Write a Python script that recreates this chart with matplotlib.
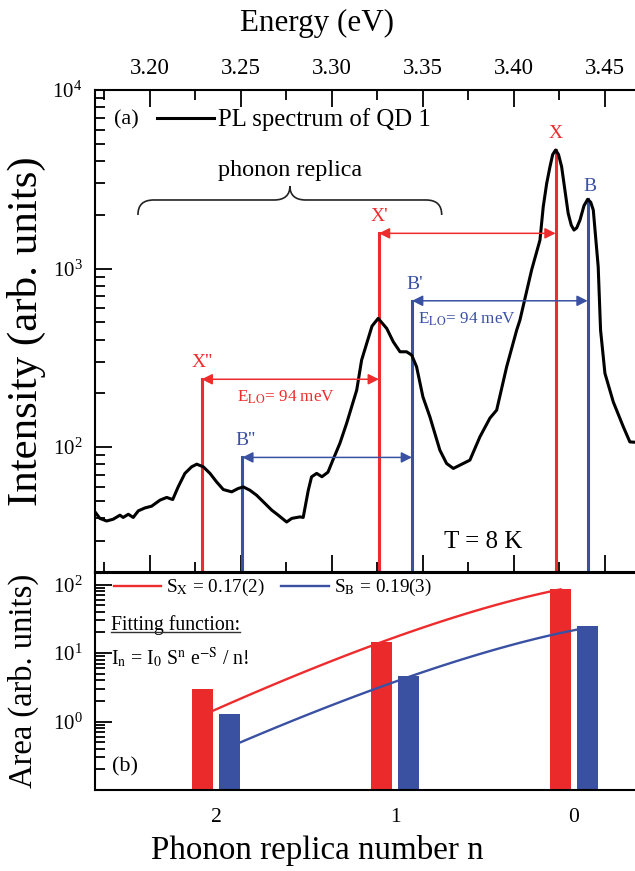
import math

import matplotlib.pyplot as plt
import numpy as np
from matplotlib.lines import Line2D
from matplotlib.patches import PathPatch
from matplotlib.path import Path
from matplotlib.ticker import FixedLocator, MultipleLocator, NullFormatter, LogLocator
from matplotlib.transforms import IdentityTransform

plt.rcParams["font.family"] = ["Liberation Serif", "DejaVu Serif"]
plt.rcParams["mathtext.fontset"] = "stix"

RED = "#ee2b2d"
BLUE = "#3a51a3"

# PL spectrum of QD 1
energy = [3.1698, 3.1725, 3.1762, 3.1798, 3.1835, 3.1853, 3.1881, 3.1908, 3.1936,
          3.1973, 3.2009, 3.2055, 3.2092, 3.2125, 3.2155, 3.2192, 3.2229, 3.2257,
          3.2293, 3.2330, 3.2366, 3.2403, 3.2449, 3.2485, 3.2513, 3.2549, 3.2586,
          3.2623, 3.2669, 3.2705, 3.2751, 3.2779, 3.2824, 3.2842, 3.2870, 3.2888,
          3.2916, 3.2945, 3.2978, 3.3005, 3.3044, 3.3081, 3.3136, 3.3163, 3.3191,
          3.3220, 3.3254, 3.3301, 3.3337, 3.3374, 3.3410, 3.3438, 3.3465, 3.3500,
          3.3538, 3.3593, 3.3630, 3.3667, 3.3703, 3.3758, 3.3813, 3.3868, 3.3905,
          3.3960, 3.4015, 3.4033, 3.4097, 3.4143, 3.4161, 3.4180, 3.4198, 3.4213,
          3.4229, 3.4245, 3.4262, 3.4298, 3.4315, 3.4330, 3.4345, 3.4363, 3.4385,
          3.4405, 3.4422, 3.4436, 3.4463, 3.4476, 3.4500, 3.4546, 3.4601, 3.4637,
          3.4700]
intensity = [43.4, 39.9, 38.6, 39.5, 41.6, 40.4, 42.1, 40.4, 44.0,
             45.7, 46.7, 50.5, 52.3, 50.9, 59.9, 71.3, 77.6, 80.3,
             77.6, 71.3, 63.9, 57.9, 56.2, 58.7, 59.9, 57.4, 53.8,
             49.4, 44.4, 41.6, 38.1, 39.9, 40.7, 40.4, 57.4, 68.2,
             71.3, 68.3, 72.4, 84.6, 105.3, 136.3, 208.6, 307.2, 381,
             476, 526, 462, 389, 342, 342, 328, 282, 191,
             148, 96.2, 81.0, 76.0, 79.3, 84.6, 114.2, 145.4, 161.2,
             282, 452, 515, 981, 1444, 2219, 3000, 3718, 4350,
             4612, 4350, 3718, 2038, 1750, 1643, 1690, 1870, 2250,
             2442, 2350, 2127, 1023, 452, 259, 179, 130, 107,
             106]

# exciton (X) and biexciton (B) lines with their LO-phonon replicas
x_names = ["X", "X'", "X''"]
x_energy = [3.4229, 3.3258, 3.2284]
x_top = [4612, 1575, 240]
b_names = ["B", "B'", "B''"]
b_energy = [3.4405, 3.3440, 3.2507]
b_top = [2442, 660, 87.6]

# integrated areas of the replicas
replica_n = [2, 1, 0]
area_x = [2.95, 14.7, 86.5]
area_b = [1.27, 4.6, 25.0]
S_x, I0_x = 0.17, 100.8
S_b, I0_b = 0.19, 28.4


def poisson(n, S, I0):
    """Fitting function I_n = I0 S^n exp(-S) / n!"""
    return np.array([I0 * S ** k * math.exp(-S) / math.gamma(k + 1) for k in n])


fig = plt.figure(figsize=(6.35, 8.71), dpi=100)
ax = fig.add_axes([0.1496, 0.3433, 0.8598, 0.5534])
ax2 = fig.add_axes([0.1496, 0.0930, 0.8598, 0.2497])

# ---- panel (a)
ax.set_yscale("log")
ax.set_xlim(3.1698, 3.4698)
ax.set_ylim(20, 1e4)

for e, top in zip(x_energy, x_top):
    ax.plot([e, e], [20, top], color=RED, lw=2.2, zorder=2)
for e, top in zip(b_energy, b_top):
    ax.plot([e, e], [20, top], color=BLUE, lw=2.2, zorder=2)
ax.plot(energy, intensity, color="black", lw=2.2, zorder=3, label="PL spectrum of QD 1")

# E_LO arrows between neighbouring replicas
arrow_kw = dict(arrowstyle="<|-|>", mutation_scale=16, shrinkA=0, shrinkB=0, lw=1.1)
for i in range(2):
    ax.annotate("", xy=(x_energy[i], x_top[i + 1]), xytext=(x_energy[i + 1], x_top[i + 1]),
                arrowprops=dict(color=RED, **arrow_kw), zorder=4)
    ax.annotate("", xy=(b_energy[i], b_top[i + 1]), xytext=(b_energy[i + 1], b_top[i + 1]),
                arrowprops=dict(color=BLUE, **arrow_kw), zorder=4)

for name, e, y in zip(x_names, x_energy, [5741, 1950, 296]):
    ax.text(e, y, name, color=RED, fontsize=14, ha="center", va="center")
for name, e, y in zip(b_names, b_energy, [2897, 818, 109]):
    ax.text(e + 0.0015, y, name, color=BLUE, fontsize=14, ha="center", va="center")

ax.text(3.2476, 191, r"E$_\mathrm{LO}$= 94 meV", color=RED, fontsize=12.3, va="center")
ax.text(3.3473, 521, r"E$_\mathrm{LO}$= 94 meV", color=BLUE, fontsize=12.3, va="center")
ax.text(3.383, 29.5, "T = 8 K", fontsize=18, ha="center", va="center")
ax.text(3.2769, 3563, "phonon replica", fontsize=17.4, ha="center", va="center")
ax.text(0.058, 0.938, "(a)", transform=ax.transAxes, fontsize=16, ha="center", va="center")

ax.legend(loc="center left", bbox_to_anchor=(0.113, 0.938), frameon=False,
          fontsize=17.8, handlelength=2.3, handletextpad=0.2, borderpad=0,
          borderaxespad=0)

ax.xaxis.set_major_locator(MultipleLocator(0.05))
ax.xaxis.set_minor_locator(MultipleLocator(0.025))
ax.xaxis.set_major_formatter(plt.FormatStrFormatter("%.2f"))
ax.yaxis.set_minor_locator(LogLocator(subs=np.arange(2, 10)))
ax.yaxis.set_minor_formatter(NullFormatter())
ax.tick_params(axis="x", which="both", direction="in", top=True, bottom=True,
               labeltop=True, labelbottom=False, labelsize=16.5, pad=8)
ax.tick_params(axis="y", which="both", direction="in", left=True, right=False,
               labelsize=15, pad=9)
ax.tick_params(which="major", length=12, width=1.3)
ax.tick_params(which="minor", length=7, width=1.3)
ax.spines["right"].set_visible(False)
for s in ax.spines.values():
    s.set_linewidth(1.5)
ax.xaxis.set_label_position("top")
ax.set_xlabel("Energy (eV)", fontsize=22.3)
ax.xaxis.set_label_coords(0.4066, 1.122)
ax.set_ylabel("Intensity (arb. units)", fontsize=31)
ax.yaxis.set_label_coords(-0.09, 0.5)

# curly brace over the replica region
fig.canvas.draw()
xl, yb = ax.transData.transform((3.1934, 2421))
xm = ax.transData.transform((3.2769, 2421))[0]
xr = ax.transData.transform((3.3603, 2421))[0]
verts = [(xl, yb - 15), (xl, yb - 5), (xl + 5, yb), (xl + 16, yb),
         (xm - 16, yb),
         (xm - 5, yb), (xm, yb + 5), (xm, yb + 14),
         (xm, yb + 5), (xm + 5, yb), (xm + 16, yb),
         (xr - 16, yb),
         (xr - 5, yb), (xr, yb - 5), (xr, yb - 15)]
codes = [Path.MOVETO, Path.CURVE4, Path.CURVE4, Path.CURVE4, Path.LINETO,
         Path.CURVE4, Path.CURVE4, Path.CURVE4, Path.CURVE4, Path.CURVE4,
         Path.CURVE4, Path.LINETO, Path.CURVE4, Path.CURVE4, Path.CURVE4]
fig.add_artist(PathPatch(Path(verts, codes), transform=IdentityTransform(),
                         fill=False, edgecolor="#222222", lw=1.2))

# ---- panel (b)
ax2.set_yscale("log")
ax2.set_xlim(2.676, -0.374)
ax2.set_ylim(0.1, 150)

n = np.array(replica_n, dtype=float)
ax2.bar(n + 0.075, area_x, width=0.115, color="#eb2b2b", zorder=2)
ax2.bar(n - 0.075, area_b, width=0.115, color="#3a50a0", zorder=2)

n_fit = np.linspace(1.96, 0, 60)
ax2.plot(n_fit + 0.075, poisson(n_fit, S_x, I0_x), color=RED, lw=1.7, zorder=3,
         label=r"S$_\mathrm{X}$ = 0.17(2)")
ax2.plot(n_fit - 0.075, poisson(n_fit, S_b, I0_b), color=BLUE, lw=1.7, zorder=3,
         label=r"S$_\mathrm{B}$ = 0.19(3)")
ax2.legend(loc="center left", bbox_to_anchor=(0.034, 0.93), frameon=False,
           fontsize=13.8, ncol=2, handlelength=2.5, handletextpad=0.25,
           columnspacing=0.85, borderpad=0, borderaxespad=0)

fit_title = ax2.text(0.029, 0.759, "Fitting function:", transform=ax2.transAxes,
                     fontsize=14.2, va="center")
ax2.text(0.029, 0.611, r"I$_\mathrm{n}$ = I$_\mathrm{0}$ S$^\mathrm{n}$ e$^\mathrm{-S}$ / n!",
         transform=ax2.transAxes, fontsize=14.2, va="center")
ax2.text(0.055, 0.107, "(b)", transform=ax2.transAxes, fontsize=16, ha="center",
         va="center")

ax2.set_xticks(replica_n)
ax2.set_xticklabels([str(k) for k in replica_n])
ax2.yaxis.set_major_locator(FixedLocator([1, 10, 100]))
ax2.yaxis.set_minor_locator(LogLocator(subs=np.arange(2, 10)))
ax2.yaxis.set_minor_formatter(NullFormatter())
ax2.tick_params(axis="x", length=0, labelsize=15.5, pad=13)
ax2.tick_params(axis="y", which="both", direction="in", labelsize=15, pad=9)
ax2.tick_params(axis="y", which="major", length=12, width=1.3)
ax2.tick_params(axis="y", which="minor", length=7, width=1.3)
ax2.spines["right"].set_visible(False)
for s in ax2.spines.values():
    s.set_linewidth(1.5)
ax2.set_xlabel("Phonon replica number n", fontsize=23.8)
ax2.xaxis.set_label_coords(0.4066, -0.205)
ax2.set_ylabel("Area (arb. units)", fontsize=23.5)
ax2.yaxis.set_label_coords(-0.103, 0.5)

# underline "Fitting function:"
fig.canvas.draw()
bb = fit_title.get_window_extent()
fig.add_artist(Line2D([bb.x0, bb.x1], [bb.y0 + 3, bb.y0 + 3], color="#333333",
                      lw=1.0, transform=IdentityTransform()))

fig.savefig("out.png", dpi=100)
